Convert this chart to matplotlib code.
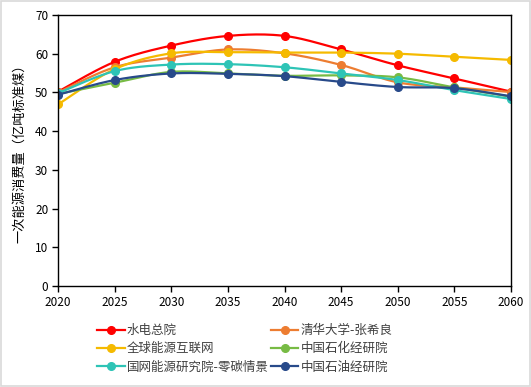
import numpy as np
import matplotlib
matplotlib.use("Agg")
import matplotlib.pyplot as plt
from matplotlib.lines import Line2D
from matplotlib.patches import Rectangle

plt.rcParams['font.family'] = ['Noto Sans CJK SC', 'DejaVu Sans']

years = [2020, 2025, 2030, 2035, 2040, 2045, 2050, 2055, 2060]
s_shuidian = [50.2, 57.9, 62.1, 64.6, 64.6, 61.1, 57.0, 53.6, 50.2]
s_qinghua = [50.0, 56.5, 59.0, 61.1, 60.1, 57.1, 52.6, 51.3, 50.1]
s_quanqiu = [46.9, 56.0, 60.1, 60.4, 60.3, 60.3, 60.0, 59.2, 58.4]
s_shihua = [49.6, 52.5, 55.3, 54.9, 54.3, 54.4, 53.9, 51.3, 48.9]
s_guowang = [49.8, 55.5, 57.2, 57.3, 56.5, 54.9, 53.2, 50.6, 48.3]
s_shiyou = [49.4, 53.2, 54.9, 54.8, 54.2, 52.7, 51.4, 51.1, 49.0]

names = ['水电总院', '清华大学-张希良', '全球能源互联网', '中国石化经研院',
         '国网能源研究院-零碳情景', '中国石油经研院']
series = [s_shuidian, s_qinghua, s_quanqiu, s_shihua, s_guowang, s_shiyou]
colors = ['#FF0000', '#ED7D31', '#F5BA00', '#77BB44', '#2EC4B6', '#284A8A']

y_label = '一次能源消费量（亿吨标准煤）'


def smooth(x, y, n=20):
    # Catmull-Rom style smoothing (like Excel smoothed lines)
    x = np.asarray(x, float)
    y = np.asarray(y, float)
    xs, ys = [], []
    for i in range(len(x) - 1):
        p0 = np.array([x[i - 1], y[i - 1]]) if i > 0 else np.array([x[i], y[i]])
        p1 = np.array([x[i], y[i]])
        p2 = np.array([x[i + 1], y[i + 1]])
        p3 = np.array([x[i + 2], y[i + 2]]) if i + 2 < len(x) else p2
        t = np.linspace(0, 1, n, endpoint=False)[:, None]
        c1 = p1 + (p2 - p0) / 6.0
        c2 = p2 - (p3 - p1) / 6.0
        pts = ((1 - t) ** 3) * p1 + 3 * ((1 - t) ** 2) * t * c1 + 3 * (1 - t) * t ** 2 * c2 + t ** 3 * p2
        xs.extend(pts[:, 0]); ys.extend(pts[:, 1])
    xs.append(x[-1]); ys.append(y[-1])
    return np.array(xs), np.array(ys)


fig = plt.figure(figsize=(5.31, 3.87), dpi=100)
ax = fig.add_axes([58 / 531, 1 - 286 / 387, (511 - 58) / 531, (286 - 15) / 387])

for s, c in zip(series, colors):
    sx, sy = smooth(years, s)
    ax.plot(sx, sy, color=c, lw=1.6, solid_capstyle='round')
    ax.plot(years, s, 'o', color=c, ms=5.5, mec=c)

ax.set_xlim(2020, 2060)
ax.set_ylim(0, 70)
ax.set_xticks(years)
ax.set_yticks(range(0, 71, 10))
ax.tick_params(direction='out', length=4, width=1, labelsize=8.5, pad=3, colors='black')
for sp in ax.spines.values():
    sp.set_linewidth(1)
    sp.set_color('black')
ax.set_ylabel(y_label, fontsize=9.5, labelpad=6)

handles = [Line2D([0], [0], color=c, lw=1.6, marker='o', ms=5.5) for c in colors]
order = [0, 2, 4, 1, 3, 5]
leg = fig.legend([handles[i] for i in order], [names[i] for i in order],
                 ncol=2, loc='upper left', bbox_to_anchor=(92 / 531, 1 - 319 / 387),
                 frameon=False, fontsize=9, handlelength=2.2, handletextpad=0.2,
                 columnspacing=0.15, labelspacing=0.42, borderaxespad=0)
for t in leg.get_texts():
    t.set_color('#404040')

fig.patches.append(Rectangle((0.001, 0.002), 0.997, 0.996, transform=fig.transFigure,
                             fill=False, edgecolor='#D9D9D9', lw=1.2))

fig.savefig('out.png', dpi=100)
